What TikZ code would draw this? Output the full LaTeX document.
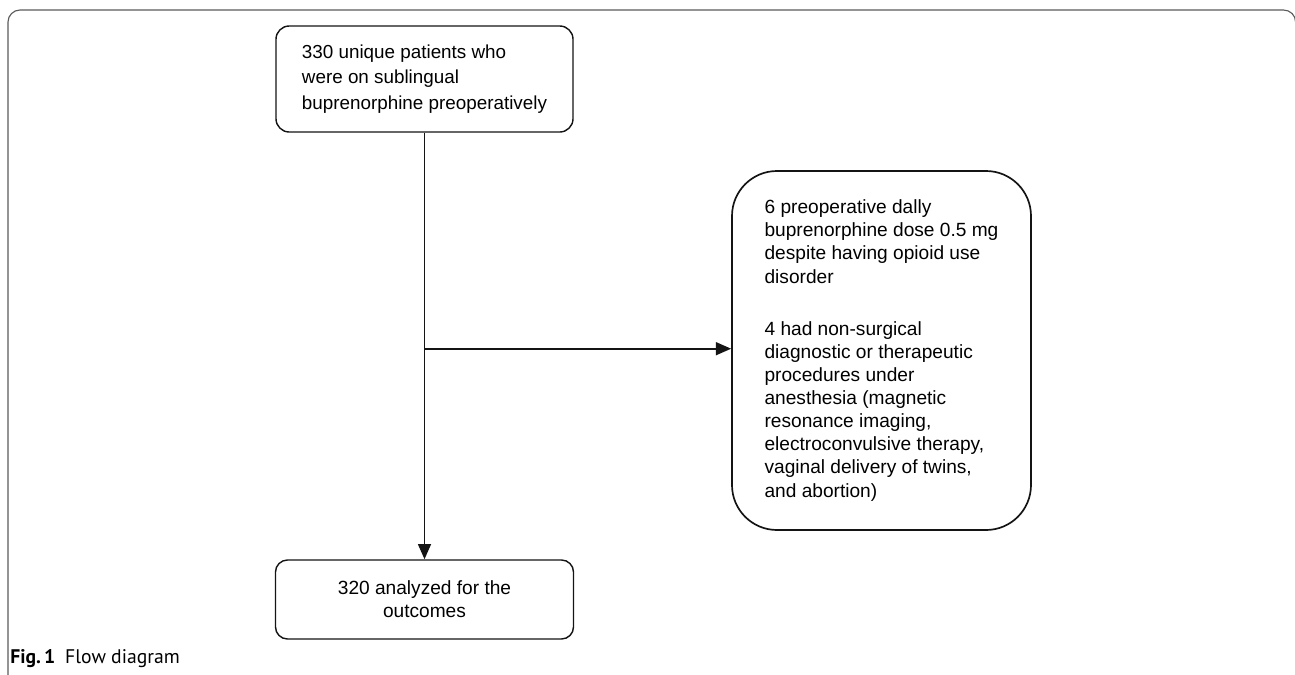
\documentclass[tikz,border=0pt]{standalone}
\usepackage{fontspec}
\setmainfont{Liberation Sans}
\newfontfamily\figfont{PT Sans}
\usepackage{tikz}
\usetikzlibrary{arrows.meta,positioning,calc}
\definecolor{framegray}{RGB}{90,90,90}
\definecolor{linecol}{RGB}{20,20,20}
\tikzset{
  flowbox/.style={draw=linecol,line width=1pt,inner sep=0pt,font=\fontsize{13.6}{16.4}\selectfont},
  flowline/.style={linecol,line width=1.4pt},
  flowarrow/.style={flowline,-{Triangle[length=0.38cm,width=0.32cm]}}
}

\begin{document}
\begin{tikzpicture}
\useasboundingbox (0,0) rectangle (32.375,-16.85);
\draw[framegray,line width=0.8pt,rounded corners=0.3cm] (0.2,-17.5) -- (0.2,-0.25) -- (32.39,-0.25) -- (32.39,-3);

\node[flowbox,rounded corners=0.33cm,minimum width=7.425cm,minimum height=2.65cm,align=left,
  font=\fontsize{13.4}{18.4}\selectfont] (cohort) at (10.6125,-1.975)
  {330 unique patients who\\were on sublingual\\buprenorphine preoperatively};
\node[flowbox,rounded corners=0.3cm,minimum width=7.45cm,minimum height=1.975cm,align=center] (analyzed) at (10.6125,-14.9875)
  {320 analyzed for the\\outcomes};
\node[flowbox,line width=1.2pt,rounded corners=1.125cm,minimum width=7.475cm,minimum height=8.975cm,align=left] (excluded) at (22.0375,-8.7625)
  {6 preoperative dally\\buprenorphine dose 0.5 mg\\despite having opioid use\\disorder\\[21pt]
   4 had non-surgical\\diagnostic or therapeutic\\procedures under\\anesthesia (magnetic\\resonance imaging,\\electroconvulsive therapy,\\vaginal delivery of twins,\\and abortion)};

\coordinate (split) at ($(cohort.south)+(0,-4.575)$);
\coordinate (branch) at ($(cohort.south)+(0,-5.4)$);
\draw[linecol,line width=0.9pt] (cohort.south) -- (split);
\draw[flowarrow] (split) -- (analyzed.north);
\draw[flowarrow] (branch) -- (branch -| excluded.west);

\node[anchor=base west,inner sep=0pt,font=\figfont\fontsize{14}{16}\selectfont] (caption) at (0.25,-16.575)
  {\textbf{Fig.\,1}\enspace Flow diagram};
\end{tikzpicture}
\end{document}
